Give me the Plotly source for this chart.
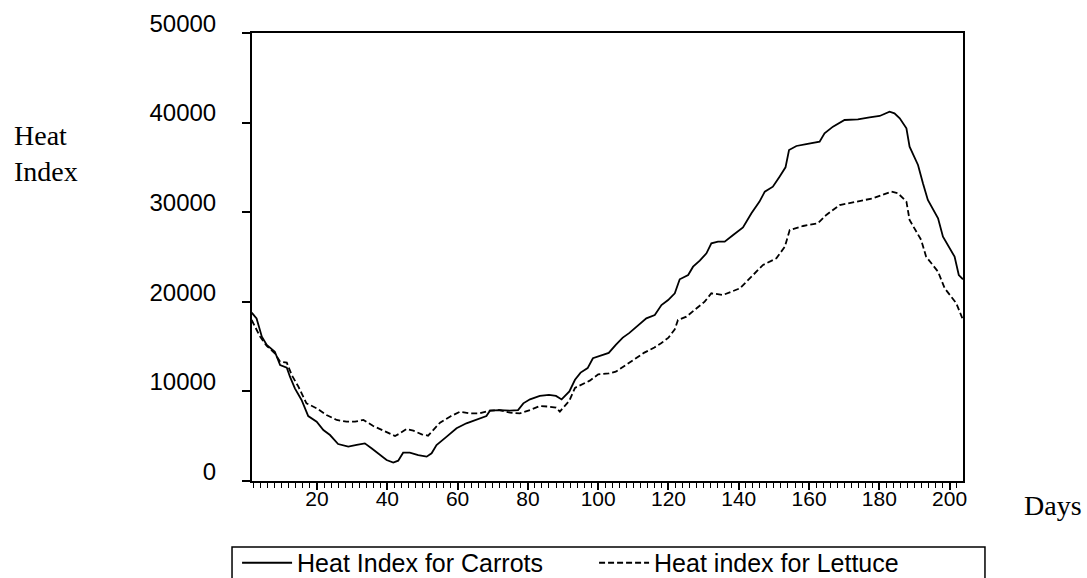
import plotly.graph_objects as go

# ---- data ----
carrot_days = [1.4, 2.8, 4.3, 5.7, 8.0, 9.5, 11.4, 12.3, 13.7, 15.6, 17.5, 19.9, 21.8, 23.7, 26.0,
               28.9, 31.3, 33.6, 35.5, 37.9, 39.8, 41.7, 43.1, 44.5, 46.4, 48.8, 51.2, 52.6, 54.0,
               56.9, 59.7, 62.5, 65.4, 68.2, 69.2, 72.0, 74.9, 77.2, 78.7, 80.6, 83.4, 86.0, 88.0,
               89.6, 91.8, 93.4, 95.0, 97.0, 98.5, 100.5, 103.0, 105.0, 107.0, 108.8, 110.4, 111.8,
               113.7, 116.1, 118.0, 119.9, 121.8, 123.2, 125.6, 127.0, 128.9, 130.8, 132.2, 134.1,
               136.0, 138.4, 141.2, 143.6, 145.9, 147.4, 149.7, 151.6, 153.3, 154.3, 156.4, 159.2,
               163.0, 164.4, 166.8, 170.1, 173.9, 177.2, 180.1, 182.9, 184.3, 185.8, 187.7, 188.6,
               191.0, 192.4, 193.8, 196.7, 198.1, 201.4, 202.6, 203.8]
carrot_vals = [18790, 18150, 16110, 15180, 14430, 12950, 12650, 11640, 10340, 9040, 7250, 6620, 5690,
               5130, 4130, 3830, 4020, 4200, 3650, 2900, 2340, 2050, 2270, 3160, 3160, 2900, 2720,
               3090, 4020, 4950, 5880, 6440, 6880, 7250, 7850, 7920, 7850, 7920, 8670, 9120, 9490,
               9600, 9500, 9100, 10000, 11300, 12100, 12600, 13700, 14000, 14300, 15200, 16000,
               16500, 17040, 17600, 18150, 18530, 19640, 20200, 20950, 22510, 22990, 23920, 24590,
               25410, 26530, 26710, 26710, 27460, 28310, 29870, 31180, 32290, 32850, 33970, 35010,
               36940, 37390, 37610, 37870, 38800, 39550, 40290, 40370, 40590, 40740, 41220, 41030,
               40480, 39360, 37310, 35270, 33220, 31360, 29320, 27270, 25040, 22990, 22510]

lettuce_days = [1.4, 3.8, 5.7, 8.0, 9.5, 11.4, 12.8, 14.7, 17.0, 19.9, 22.7, 25.6, 28.4, 30.8, 33.2,
                36.0, 38.9, 42.2, 43.6, 45.5, 47.4, 49.8, 51.6, 53.1, 55.0, 57.8, 60.7, 63.5, 66.3,
                69.2, 72.0, 74.9, 77.7, 80.6, 83.4, 86.0, 88.0, 89.1, 91.8, 93.4, 95.5, 97.6, 100.0,
                103.0, 105.0, 107.0, 110.0, 113.0, 116.0, 118.0, 120.0, 121.8, 122.7, 125.1, 127.9,
                130.3, 132.2, 135.5, 140.3, 143.1, 146.9, 150.7, 153.1, 154.5, 158.3, 162.5, 164.9,
                168.7, 173.4, 178.2, 183.4, 185.3, 187.7, 188.6, 191.9, 193.3, 196.7, 198.6, 201.9,
                203.6]
lettuce_vals = [17970, 16110, 15070, 14250, 13320, 13210, 11830, 10530, 8670, 8110, 7370, 6810, 6620,
                6620, 6810, 6140, 5620, 5020, 5320, 5800, 5620, 5210, 5060, 5690, 6510, 7180, 7740,
                7550, 7550, 7850, 7920, 7630, 7550, 7920, 8370, 8300, 8200, 7750, 8960, 10400, 10800,
                11200, 11900, 12000, 12200, 12700, 13500, 14300, 14900, 15400, 16000, 16930, 17970,
                18340, 19270, 20020, 20950, 20760, 21500, 22620, 24110, 24850, 26150, 28010, 28460,
                28760, 29690, 30800, 31180, 31550, 32290, 32110, 31180, 29130, 26900, 25040, 23360,
                21500, 19830, 18160]

series_names = ["Heat Index for Carrots", "Heat index for Lettuce"]
y_label = "Heat<br>Index"
x_label = "Days"

fig = go.Figure()
fig.add_trace(go.Scatter(x=carrot_days, y=carrot_vals, mode="lines", name=series_names[0],
                         line=dict(color="black", width=1.8)))
fig.add_trace(go.Scatter(x=lettuce_days, y=lettuce_vals, mode="lines", name=series_names[1],
                         line=dict(color="black", width=1.8, dash="6px,3px")))

sans = "Liberation Sans, Arial, sans-serif"
serif = dict(family="Liberation Serif, Times New Roman, serif", size=28, color="black")

W, H = 1087, 578
ML, MT, PW, PH = 252, 33, 711, 448

fig.update_layout(
    width=W, height=H,
    paper_bgcolor="white", plot_bgcolor="white",
    margin=dict(l=ML, r=W - ML - PW, t=MT, b=H - MT - PH, autoexpand=False),
    showlegend=True,
    legend=dict(orientation="h", x=-0.021, xanchor="left", y=-0.183, yanchor="middle",
                borderwidth=0, bgcolor="rgba(0,0,0,0)",
                font=dict(family=sans, size=25, color="black"),
                entrywidth=292, itemwidth=50, traceorder="normal"),
    xaxis=dict(range=[1.5, 203.8], tickmode="linear", tick0=0, dtick=20,
               ticks="outside", ticklen=7, tickwidth=1.5, tickcolor="black",
               ticklabelstandoff=-9,
               minor=dict(ticks="outside", ticklen=5, tickwidth=1.3, tickcolor="black", dtick=2, tick0=0),
               showline=True, linecolor="black", linewidth=2, mirror=True,
               showgrid=False, zeroline=False,
               tickfont=dict(family=sans, size=21, color="black")),
    yaxis=dict(range=[0, 50000], tickmode="linear", tick0=0, dtick=10000, tickformat="d",
               ticks="outside", ticklen=8, tickwidth=1.5, tickcolor="black",
               ticklabelposition="outside top", ticklabelstandoff=29, ticklabelshift=8,
               showline=True, linecolor="black", linewidth=2, mirror=True,
               showgrid=False, zeroline=False,
               tickfont=dict(family=sans, size=24, color="black")),
    shapes=[
        dict(type="rect", xref="paper", yref="paper", x0=-0.0281, x1=1.0309, y0=-0.1473, y1=-0.30,
             line=dict(color="black", width=1.5), fillcolor="rgba(0,0,0,0)", layer="below"),
    ],
    annotations=[
        dict(text=y_label, xref="paper", yref="paper", x=-0.3376, y=0.73, xanchor="left",
             yanchor="middle", align="left", showarrow=False, font=serif),
        dict(text=x_label, xref="paper", yref="paper", x=1.0830, y=-0.0558, xanchor="left",
             yanchor="middle", showarrow=False, font=serif),
    ],
)

# remove the browser's default 8px page margin so the figure fills the window exactly
fig.write_html("out.html", config={"displayModeBar": False},
               post_script="document.body.style.margin='0';")
